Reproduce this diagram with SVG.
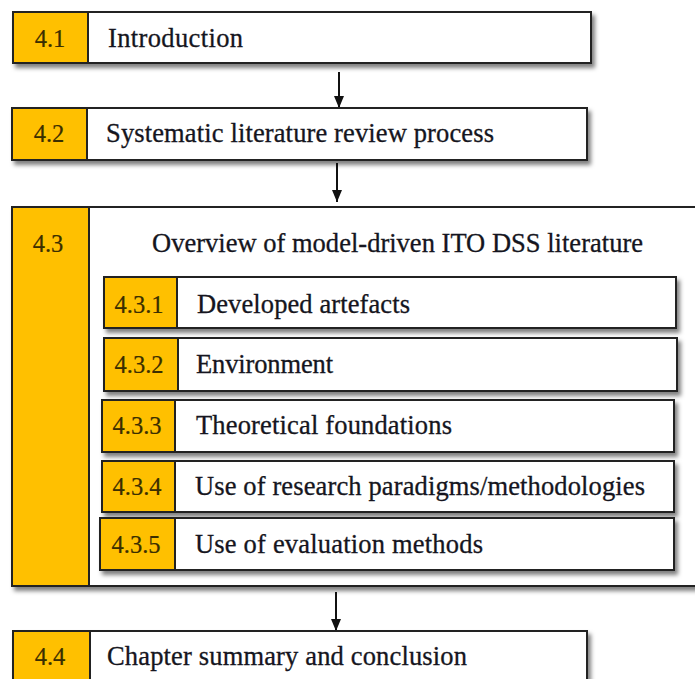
<svg xmlns="http://www.w3.org/2000/svg" width="695" height="679" viewBox="0 0 695 679">
<defs>
<filter id="sh" x="-5%" y="-10%" width="115%" height="130%">
<feDropShadow dx="3" dy="4" stdDeviation="2.2" flood-color="#000" flood-opacity="0.5"/>
</filter>
<marker id="ah" viewBox="0 0 12 10" refX="12" refY="5" markerWidth="12" markerHeight="10" markerUnits="userSpaceOnUse" orient="auto">
<path d="M0,0 L12,5 L0,10 Z" fill="#111"/>
</marker>
</defs>
<style>
.box{fill:#fff;stroke:#222;stroke-width:2}
.num{fill:#FFC000;stroke:#222;stroke-width:2}
.t{font-size:26.5px;fill:#151520;stroke:#151520;stroke-width:0.3}
.n{font-size:24.5px;fill:#3a2e00;stroke:#3a2e00;stroke-width:0.2;text-anchor:middle}
.c{stroke:#111;stroke-width:2;fill:none}
</style>
<g id="connectors">
<line class="c" x1="339" y1="72" x2="339" y2="108" marker-end="url(#ah)"/>
<line class="c" x1="337" y1="163" x2="337" y2="202" marker-end="url(#ah)"/>
<line class="c" x1="336" y1="592" x2="336" y2="631" marker-end="url(#ah)"/>
</g>
<g font-family="'Liberation Serif', 'DejaVu Serif', serif">
<g id="n41">
<rect class="box" x="13" y="12" width="578" height="51" filter="url(#sh)"/>
<rect class="num" x="13" y="12" width="75" height="51"/>
<text class="n" x="50" y="47">4.1</text>
<text class="t" x="108" y="47" textLength="135" lengthAdjust="spacing">Introduction</text>
</g>
<g id="n42">
<rect class="box" x="12" y="108" width="575" height="52" filter="url(#sh)"/>
<rect class="num" x="12" y="108" width="75" height="52"/>
<text class="n" x="49" y="142">4.2</text>
<text class="t" x="106" y="142" textLength="388" lengthAdjust="spacing">Systematic literature review process</text>
</g>
<g id="n43">
<rect class="box" x="12" y="207" width="700" height="379" filter="url(#sh)"/>
<rect class="num" x="12" y="207" width="77" height="379"/>
<text class="n" x="48" y="252">4.3</text>
<text class="t" x="152" y="252" textLength="491" lengthAdjust="spacing">Overview of model-driven ITO DSS literature</text>
</g>
<g id="n431">
<rect class="box" x="104" y="277" width="572" height="51" filter="url(#sh)"/>
<rect class="num" x="104" y="277" width="73" height="51"/>
<text class="n" x="139" y="313">4.3.1</text>
<text class="t" x="197" y="313" textLength="213" lengthAdjust="spacing">Developed artefacts</text>
</g>
<g id="n432">
<rect class="box" x="104" y="338" width="573" height="53" filter="url(#sh)"/>
<rect class="num" x="104" y="338" width="74" height="53"/>
<text class="n" x="139" y="373">4.3.2</text>
<text class="t" x="196" y="373" textLength="137" lengthAdjust="spacing">Environment</text>
</g>
<g id="n433">
<rect class="box" x="102" y="400" width="572" height="52" filter="url(#sh)"/>
<rect class="num" x="102" y="400" width="73" height="52"/>
<text class="n" x="137" y="434">4.3.3</text>
<text class="t" x="196" y="434" textLength="256" lengthAdjust="spacing">Theoretical foundations</text>
</g>
<g id="n434">
<rect class="box" x="102" y="461" width="572" height="51" filter="url(#sh)"/>
<rect class="num" x="102" y="461" width="73" height="51"/>
<text class="n" x="137" y="495">4.3.4</text>
<text class="t" x="195" y="495" textLength="450" lengthAdjust="spacing">Use of research paradigms/methodologies</text>
</g>
<g id="n435">
<rect class="box" x="100" y="518" width="574" height="52" filter="url(#sh)"/>
<rect class="num" x="100" y="518" width="75" height="52"/>
<text class="n" x="136" y="553">4.3.5</text>
<text class="t" x="195" y="553" textLength="288" lengthAdjust="spacing">Use of evaluation methods</text>
</g>
<g id="n44">
<rect class="box" x="13" y="631" width="574" height="60" filter="url(#sh)"/>
<rect class="num" x="13" y="631" width="77" height="60"/>
<text class="n" x="50" y="665">4.4</text>
<text class="t" x="107" y="665" textLength="360" lengthAdjust="spacing">Chapter summary and conclusion</text>
</g>
</g>
</svg>
